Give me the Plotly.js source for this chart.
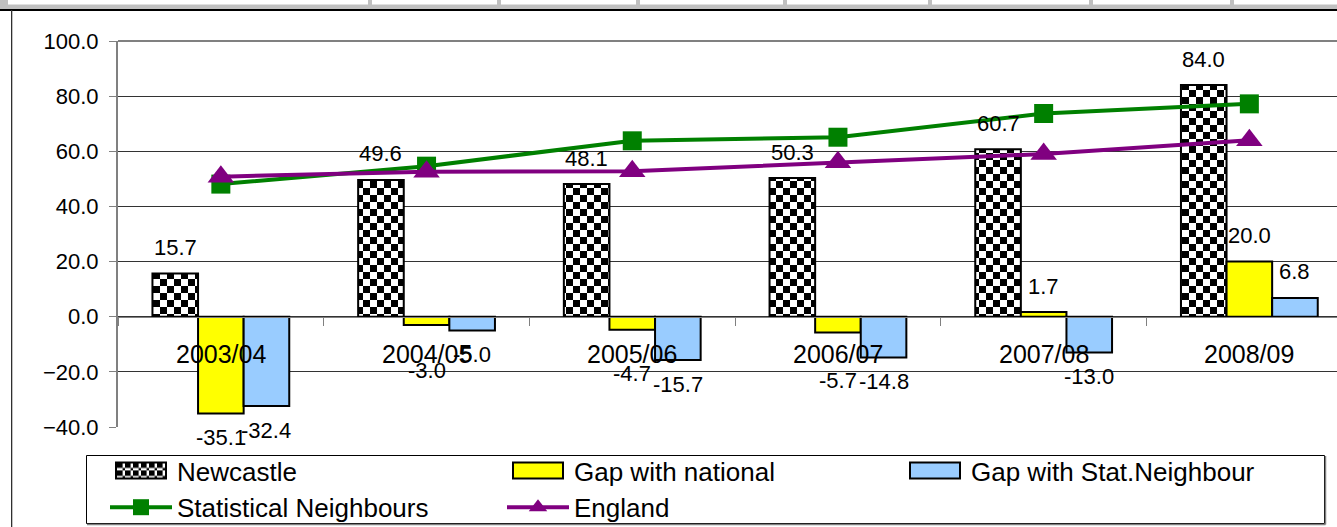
<!DOCTYPE html>
<html>
<head>
<meta charset="utf-8">
<script src="https://cdn.plot.ly/plotly-3.0.1.min.js"></script>
<style>html,body{margin:0;padding:0;background:#fff;}#chart{width:1337px;height:527px;}</style>
</head>
<body>
<div id="chart"></div>
<script>
// ---- data ----
const categories = ['2003/04', '2004/05', '2005/06', '2006/07', '2007/08', '2008/09'];
const newcastle = [15.7, 49.6, 48.1, 50.3, 60.7, 84.0];
const gapNational = [-35.1, -3.0, -4.7, -5.7, 1.7, 20.0];
const gapStatNeighbour = [-32.4, -5.0, -15.7, -14.8, -13.0, 6.8];
const statNeighbours = [48.1, 54.6, 63.8, 65.1, 73.7, 77.2];
const england = [50.8, 52.6, 52.8, 56.0, 59.0, 64.0];
const yTicks = [-40, -20, 0, 20, 40, 60, 80, 100];

// ---- styling / layout constants ----
const W = 1337, H = 527;
const M = {l: 118, r: 0, t: 41, b: 100};
const plotW = W - M.l - M.r, plotH = H - M.t - M.b;
const catPx = 205.7;
const bargap = 0.335;
const FONT = 'Liberation Sans, Arial, sans-serif';
const px2x = p => (p - M.l) / plotW;
const px2y = p => (H - M.b - p) / plotH;
// extra drop for some national-gap labels (px below bar end)
const natLabelDrop = [24, 46, 44, 48, 24, 24];

const checker = {path: 'M0,0H7V7H0ZM7,7H14V14H7Z', size: 14, solidity: 1,
                 fgcolor: '#000000', bgcolor: '#ffffff', fillmode: 'replace'};

const traces = [
  {type: 'bar', name: 'Newcastle', x: categories, y: newcastle,
   marker: {color: '#ffffff', pattern: checker, line: {color: '#000', width: 2}}, hoverinfo: 'none'},
  {type: 'bar', name: 'Gap with national', x: categories, y: gapNational,
   marker: {color: '#ffff00', line: {color: '#000', width: 2}}, hoverinfo: 'none'},
  {type: 'bar', name: 'Gap with Stat.Neighbour', x: categories, y: gapStatNeighbour,
   marker: {color: '#99ccff', line: {color: '#000', width: 2}}, hoverinfo: 'none'},
  {type: 'scatter', mode: 'lines+markers', name: 'Statistical Neighbours', x: categories, y: statNeighbours,
   line: {color: '#008000', width: 4}, marker: {symbol: 'square', size: 19, color: '#008000'}, hoverinfo: 'none'},
  {type: 'scatter', mode: 'lines+markers', name: 'England', x: categories, y: england,
   line: {color: '#800080', width: 4}, marker: {symbol: 'triangle-up', size: 23, color: '#800080'}, hoverinfo: 'none'}
];

// data labels
const annotations = [];
const barUnit = (1 - bargap) / 3;
const fmt = v => v.toFixed(1);
[[newcastle, -1, null], [gapNational, 0, natLabelDrop], [gapStatNeighbour, 1, null]].forEach(([arr, k, drops]) => {
  arr.forEach((v, i) => {
    const down = drops ? drops[i] : 24;
    annotations.push({x: i + k * barUnit, y: v, xref: 'x', yref: 'y', text: fmt(v), showarrow: false,
      xanchor: 'center', yanchor: 'middle', yshift: v >= 0 ? 26 : -down,
      font: {family: FONT, size: 22, color: '#000'}});
  });
});
// category labels (drawn next to the zero axis, over the bars)
categories.forEach((c, i) => {
  annotations.push({x: i, y: 0, xref: 'x', yref: 'y', text: c, showarrow: false,
    xanchor: 'center', yanchor: 'middle', yshift: -37,
    font: {family: FONT, size: 25, color: '#000'}});
});

// decoration: spreadsheet strip + chart frame + legend box
const shapes = [];
const rectPx = (x0, y0, x1, y1, fill) => shapes.push({type: 'rect', xref: 'paper', yref: 'paper',
  x0: px2x(x0), x1: px2x(x1), y0: px2y(y1), y1: px2y(y0), fillcolor: fill, line: {width: 0}, layer: 'above'});
rectPx(0, 0, W, 9, '#c0c0c0');
const cellEdges = [8, 370, 499, 638, 785, 930, 1091, 1232, 1340];
for (let i = 0; i < cellEdges.length - 1; i++) rectPx(cellEdges[i] + (i ? 2 : 0), 0, cellEdges[i + 1] - 2, 4.5, '#ffffff');
rectPx(0, 9, W, 11, '#000000');
rectPx(11, 10, 12.3, H, '#303030');
// plot-area top border
shapes.push({type: 'line', xref: 'paper', yref: 'paper', x0: 0, x1: 1, y0: 1, y1: 1,
  line: {color: '#808080', width: 2}, layer: 'above'});
// legend frame
shapes.push({type: 'rect', xref: 'paper', yref: 'paper', x0: px2x(86.5), x1: px2x(1324.5),
  y0: px2y(523.5), y1: px2y(455.5), line: {color: '#000', width: 1}, fillcolor: 'rgba(0,0,0,0)', layer: 'below'});
shapes.push({type: 'line', xref: 'paper', yref: 'paper', x0: px2x(87), x1: px2x(1325.5),
  y0: px2y(524.5), y1: px2y(524.5), line: {color: '#808080', width: 1.5}, layer: 'below'});
shapes.push({type: 'line', xref: 'paper', yref: 'paper', x0: px2x(1325.5), x1: px2x(1325.5),
  y0: px2y(524.5), y1: px2y(456), line: {color: '#808080', width: 1.5}, layer: 'below'});

const layout = {
  width: W, height: H,
  margin: {l: M.l, r: M.r, t: M.t, b: M.b, pad: 0, autoexpand: false},
  paper_bgcolor: '#ffffff', plot_bgcolor: '#ffffff',
  font: {family: FONT, size: 22, color: '#000'},
  barmode: 'group', bargap: bargap, bargroupgap: 0,
  showlegend: true,
  xaxis: {type: 'category', range: [-0.5, -0.5 + plotW / catPx], anchor: 'free', position: 40 / 140,
    showline: true, linecolor: '#808080', linewidth: 1, ticks: 'outside', ticklen: 8, tickcolor: '#808080',
    tickson: 'boundaries', showticklabels: false, showgrid: false, zeroline: false, fixedrange: true},
  yaxis: {range: [-40, 100], tickvals: yTicks, tickformat: '.1f', ticks: 'outside', ticklen: 7, tickcolor: '#808080',
    showline: true, linecolor: '#808080', linewidth: 2, gridcolor: '#333333', gridwidth: 1, zeroline: false,
    tickfont: {family: FONT, size: 22, color: '#000'}, ticklabelstandoff: 6, fixedrange: true},
  legend: {orientation: 'h', x: px2x(87), xanchor: 'left', y: px2y(447), yanchor: 'top',
    borderwidth: 0, bgcolor: 'rgba(0,0,0,0)',
    font: {family: FONT, size: 26, color: '#000'},
    itemwidth: 62, indentation: 18, entrywidthmode: 'pixels', entrywidth: 302, traceorder: 'normal'},
  annotations: annotations,
  shapes: shapes
};

Plotly.newPlot('chart', traces, layout, {staticPlot: true, displayModeBar: false}).then(() => {
  const items = document.querySelectorAll('.legend .traces');
  items.forEach((g, i) => {
    if (i < 3) g.querySelectorAll('.legendpoints path').forEach(p => p.setAttribute('d', 'M25,8H-25V-8H25Z'));
  });
});
</script>
</body>
</html>
